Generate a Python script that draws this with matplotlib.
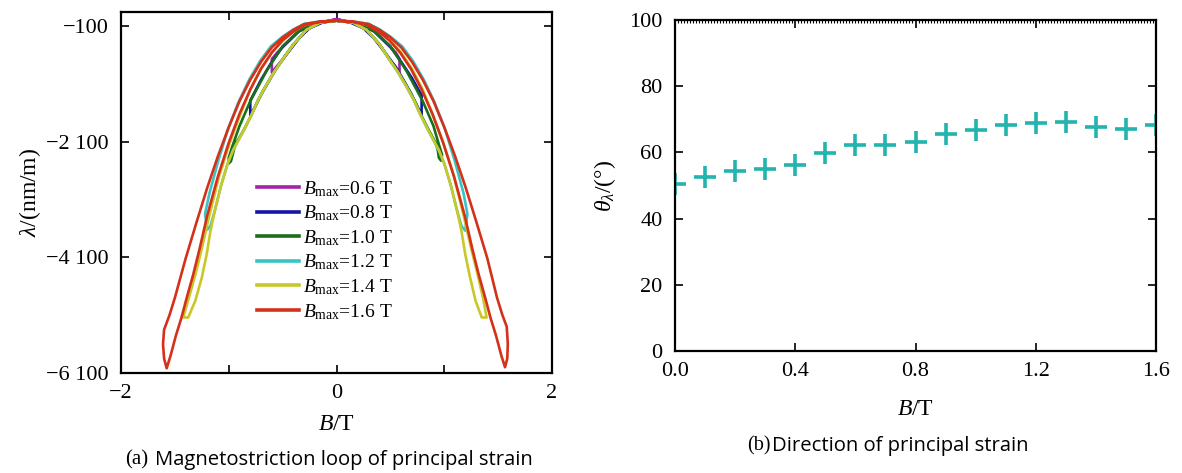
import numpy as np
import matplotlib.pyplot as plt
from matplotlib.ticker import FixedLocator, FuncFormatter, MultipleLocator

plt.rcParams['font.family'] = ['Liberation Serif', 'DejaVu Serif']
plt.rcParams['mathtext.fontset'] = 'custom'
plt.rcParams['mathtext.rm'] = 'Liberation Serif'
plt.rcParams['mathtext.it'] = 'Liberation Serif:italic'

# ---- (a) magnetostriction loops (B in T, lambda in nm/m)
# each loop: left half (top -> outer -> tip -> inner -> top), then right half
b06_B = [0, -0.2, -0.35, -0.45, -0.55, -0.60, -0.60, -0.55, -0.50, -0.40, -0.28, -0.15, 0,
         0.2, 0.35, 0.45, 0.55, 0.585, 0.585, 0.54, 0.49, 0.40, 0.28, 0.15, 0]
b06_L = [15, -60, -200, -380, -560, -673, -902, -790, -680, -420, -170, -40, 15,
         -60, -200, -380, -560, -673, -902, -790, -680, -420, -170, -40, 15]

b08_B = [0, -0.2, -0.35, -0.5, -0.6, -0.7, -0.8, -0.8, -0.75, -0.70, -0.62, -0.55, -0.45, -0.35, -0.25, -0.12, 0,
         0.2, 0.35, 0.5, 0.6, 0.7, 0.79, 0.79, 0.74, 0.69, 0.62, 0.55, 0.45, 0.35, 0.25, 0.12, 0]
b08_L = [-10, -55, -190, -460, -720, -1030, -1390, -1647, -1480, -1290, -1030, -810, -560, -320, -140, -35, -10,
         -55, -190, -460, -720, -1000, -1300, -1647, -1450, -1260, -1030, -810, -560, -320, -140, -35, -10]

b10_B = [0, -0.2, -0.35, -0.5, -0.65, -0.8, -0.9, -0.97, -1.0, -1.0, -0.98, -0.96, -0.94, -0.86, -0.79, -0.73,
         -0.66, -0.58, -0.50, -0.40, -0.28, -0.15, 0,
         0.2, 0.35, 0.5, 0.65, 0.8, 0.9, 0.95, 0.98, 0.97, 0.95, 0.94, 0.92, 0.85, 0.78, 0.72,
         0.65, 0.57, 0.49, 0.40, 0.28, 0.15, 0]
b10_L = [-10, -50, -190, -450, -880, -1400, -1830, -2200, -2380, -2478, -2440, -2300, -2150, -1900, -1640, -1390,
         -1150, -900, -680, -420, -170, -40, -10,
         -50, -190, -450, -880, -1400, -1830, -2150, -2330, -2430, -2380, -2250, -2120, -1880, -1620, -1380,
         -1140, -890, -670, -420, -170, -40, -10]

b12_B = [0, -0.15, -0.30, -0.40, -0.50, -0.61, -0.71, -0.81, -0.91, -1.01, -1.10, -1.18, -1.22, -1.20,
         -1.17, -1.13, -1.07, -1.01, -0.96, -0.86, -0.79, -0.73, -0.66, -0.58, -0.50, -0.40, -0.28, -0.15, 0,
         0.15, 0.30, 0.40, 0.50, 0.61, 0.71, 0.81, 0.91, 1.01, 1.10, 1.18, 1.215, 1.195,
         1.16, 1.12, 1.06, 1.00, 0.95, 0.85, 0.78, 0.72, 0.65, 0.57, 0.49, 0.40, 0.28, 0.15, 0]
b12_L = [-10, -22, -65, -160, -285, -455, -710, -1030, -1420, -1900, -2450, -3000, -3350, -3625,
         -3560, -3300, -2850, -2480, -2250, -1900, -1640, -1390, -1150, -900, -680, -420, -170, -40, -10,
         -22, -65, -160, -285, -455, -710, -1030, -1420, -1900, -2450, -3000, -3350, -3640,
         -3560, -3300, -2850, -2480, -2250, -1900, -1640, -1390, -1150, -900, -680, -420, -170, -40, -10]

b14_B = [0, -0.15, -0.30, -0.40, -0.50, -0.60, -0.70, -0.80, -0.89, -0.99, -1.09, -1.18, -1.25, -1.31, -1.37,
         -1.422, -1.376, -1.31, -1.25, -1.205, -1.17, -1.13, -1.07, -1.01, -0.96, -0.86, -0.79, -0.73, -0.66,
         -0.58, -0.50, -0.40, -0.28, -0.15, 0,
         0.15, 0.30, 0.40, 0.50, 0.60, 0.70, 0.80, 0.89, 0.99, 1.09, 1.18, 1.25, 1.31, 1.36,
         1.393, 1.348, 1.29, 1.24, 1.195, 1.16, 1.12, 1.06, 1.00, 0.95, 0.85, 0.78, 0.72, 0.65,
         0.57, 0.49, 0.40, 0.28, 0.15, 0]
b14_L = [-10, -30, -90, -200, -350, -560, -840, -1200, -1620, -2120, -2700, -3380, -3950, -4400, -4800,
         -5140, -5140, -4850, -4450, -4050, -3650, -3300, -2850, -2480, -2250, -1900, -1640, -1390, -1150,
         -900, -680, -420, -170, -40, -10,
         -30, -90, -200, -350, -560, -840, -1200, -1620, -2120, -2700, -3380, -3950, -4400, -4800,
         -5140, -5140, -4850, -4450, -4050, -3650, -3300, -2850, -2480, -2250, -1900, -1640, -1390, -1150,
         -900, -680, -420, -170, -40, -10]

b16_B = [0, -0.15, -0.30, -0.40, -0.50, -0.60, -0.70, -0.80, -0.90, -1.00, -1.10, -1.20, -1.30, -1.40,
         -1.50, -1.55, -1.60, -1.61, -1.60, -1.576,
         -1.54, -1.49, -1.44, -1.39, -1.33, -1.27, -1.20, -1.10, -1.00, -0.90, -0.80, -0.70, -0.60,
         -0.50, -0.40, -0.30, -0.15, 0,
         0.15, 0.30, 0.40, 0.50, 0.60, 0.70, 0.80, 0.90, 1.00, 1.10, 1.20, 1.30, 1.40,
         1.49, 1.54, 1.58, 1.59, 1.585, 1.564,
         1.53, 1.48, 1.43, 1.38, 1.32, 1.26, 1.19, 1.09, 0.99, 0.89, 0.79, 0.69, 0.59,
         0.49, 0.39, 0.29, 0.15, 0]
b16_L = [-10, -25, -70, -170, -300, -470, -720, -1030, -1400, -1850, -2350, -2900, -3500, -4120,
         -4800, -5100, -5350, -5600, -5850, -6018,
         -5800, -5450, -5150, -4800, -4400, -3950, -3380, -2700, -2120, -1620, -1200, -840, -560,
         -350, -200, -90, -30, -10,
         -25, -70, -170, -300, -470, -720, -1030, -1400, -1850, -2350, -2900, -3500, -4120,
         -4800, -5100, -5300, -5600, -5850, -6000,
         -5800, -5450, -5150, -4800, -4400, -3950, -3380, -2700, -2120, -1620, -1200, -840, -560,
         -350, -200, -90, -30, -10]

loop_labels = ['0.6', '0.8', '1.0', '1.2', '1.4', '1.6']
loop_colors = ['#A224A8', '#1414A8', '#18701C', '#38C4C4', '#C8C828', '#D4301A']

# ---- (b) direction of principal strain
B_dir = [0.0, 0.1, 0.2, 0.3, 0.4, 0.5, 0.6, 0.7, 0.8, 0.9, 1.0, 1.1, 1.2, 1.3, 1.4, 1.5, 1.6]
theta = [50.5, 52.5, 54.3, 55.1, 56.1, 59.7, 62.2, 62.2, 63.2, 65.5, 66.9, 68.3, 68.9, 69.2, 67.8, 67.1, 68.2]

W, H = 1182, 473
fig = plt.figure(figsize=(W / 100, H / 100), dpi=100)


def box(x0, y0, x1, y1):
    # pixel box (top-left origin) -> figure fraction rect
    return [x0 / W, 1 - y1 / H, (x1 - x0) / W, (y1 - y0) / H]


ax1 = fig.add_axes(box(121, 12, 552, 373))
loops = [(b06_B, b06_L), (b08_B, b08_L), (b10_B, b10_L), (b12_B, b12_L), (b14_B, b14_L), (b16_B, b16_L)]
for (bb, ll), lab, col in zip(loops, loop_labels, loop_colors):
    ax1.plot(bb, ll, color=col, lw=1.9, label=r'$B_{\rm max}$=' + lab + ' T')

ax1.set_xlim(-2, 2)
ax1.set_ylim(-6100, 140)
ax1.xaxis.set_major_locator(FixedLocator([-2, -1, 0, 1, 2]))
ax1.xaxis.set_major_formatter(FuncFormatter(
    lambda v, p: '' if abs(v) == 1 else ('\u2212' if v < 0 else '') + str(abs(int(v)))))
ax1.yaxis.set_major_locator(FixedLocator([-6100, -4100, -2100, -100]))


def thousands(v, p):
    s = '{:,}'.format(abs(int(round(v)))).replace(',', ' ')
    return ('\u2212' if v < 0 else '') + s


ax1.yaxis.set_major_formatter(FuncFormatter(thousands))
ax1.set_xlabel('$B$/T', fontsize=17, labelpad=8)
ax1.set_ylabel(r'$\lambda$/(nm/m)', fontsize=17, labelpad=2)
leg = ax1.legend(loc='center', bbox_to_anchor=(0.473, 0.34), frameon=False, fontsize=14,
                 handlelength=2.2, handletextpad=0.2, labelspacing=0.25, borderpad=0)
for h in leg.get_lines():
    h.set_linewidth(2.6)

ax2 = fig.add_axes(box(675, 20, 1156, 351))
ax2.plot(B_dir, theta, ls='none', marker='+', ms=16, mew=2.6, color='#22B4AE')
ax2.set_xlim(0, 1.6)
ax2.set_ylim(0, 100)
ax2.xaxis.set_major_locator(MultipleLocator(0.4))
ax2.xaxis.set_major_formatter(FuncFormatter(lambda v, p: '%.1f' % v))
ax2.yaxis.set_major_locator(MultipleLocator(20))
ax2.xaxis.set_minor_locator(MultipleLocator(0.01))
ax2.tick_params(axis='x', which='minor', top=True, bottom=False, direction='in', length=2, width=0.8)
ax2.set_xlabel('$B$/T', fontsize=17, labelpad=13)
ax2.set_ylabel(r'$\theta_\lambda$/(°)', fontsize=17, labelpad=8)

for ax in (ax1, ax2):
    ax.tick_params(axis='both', which='major', direction='in', top=True, right=True,
                   length=6, width=1.2, labelsize=16)
    ax.tick_params(axis='y', which='major', pad=9)
    ax.tick_params(axis='x', which='major', pad=8)
    for s in ax.spines.values():
        s.set_linewidth(1.6)

# captions: serif tag + sans text
fig.text(125 / W, 1 - 460 / H, '(a)', fontsize=15, va='center', ha='left')
fig.text(155 / W, 1 - 460 / H, 'Magnetostriction loop of principal strain', family='Open Sans',
         fontsize=14.6, va='center', ha='left')
fig.text(747 / W, 1 - 446 / H, '(b)', fontsize=14.5, va='center', ha='left')
fig.text(772 / W, 1 - 446 / H, 'Direction of principal strain', family='Open Sans',
         fontsize=14.6, va='center', ha='left')

fig.savefig('out.png', dpi=100)
